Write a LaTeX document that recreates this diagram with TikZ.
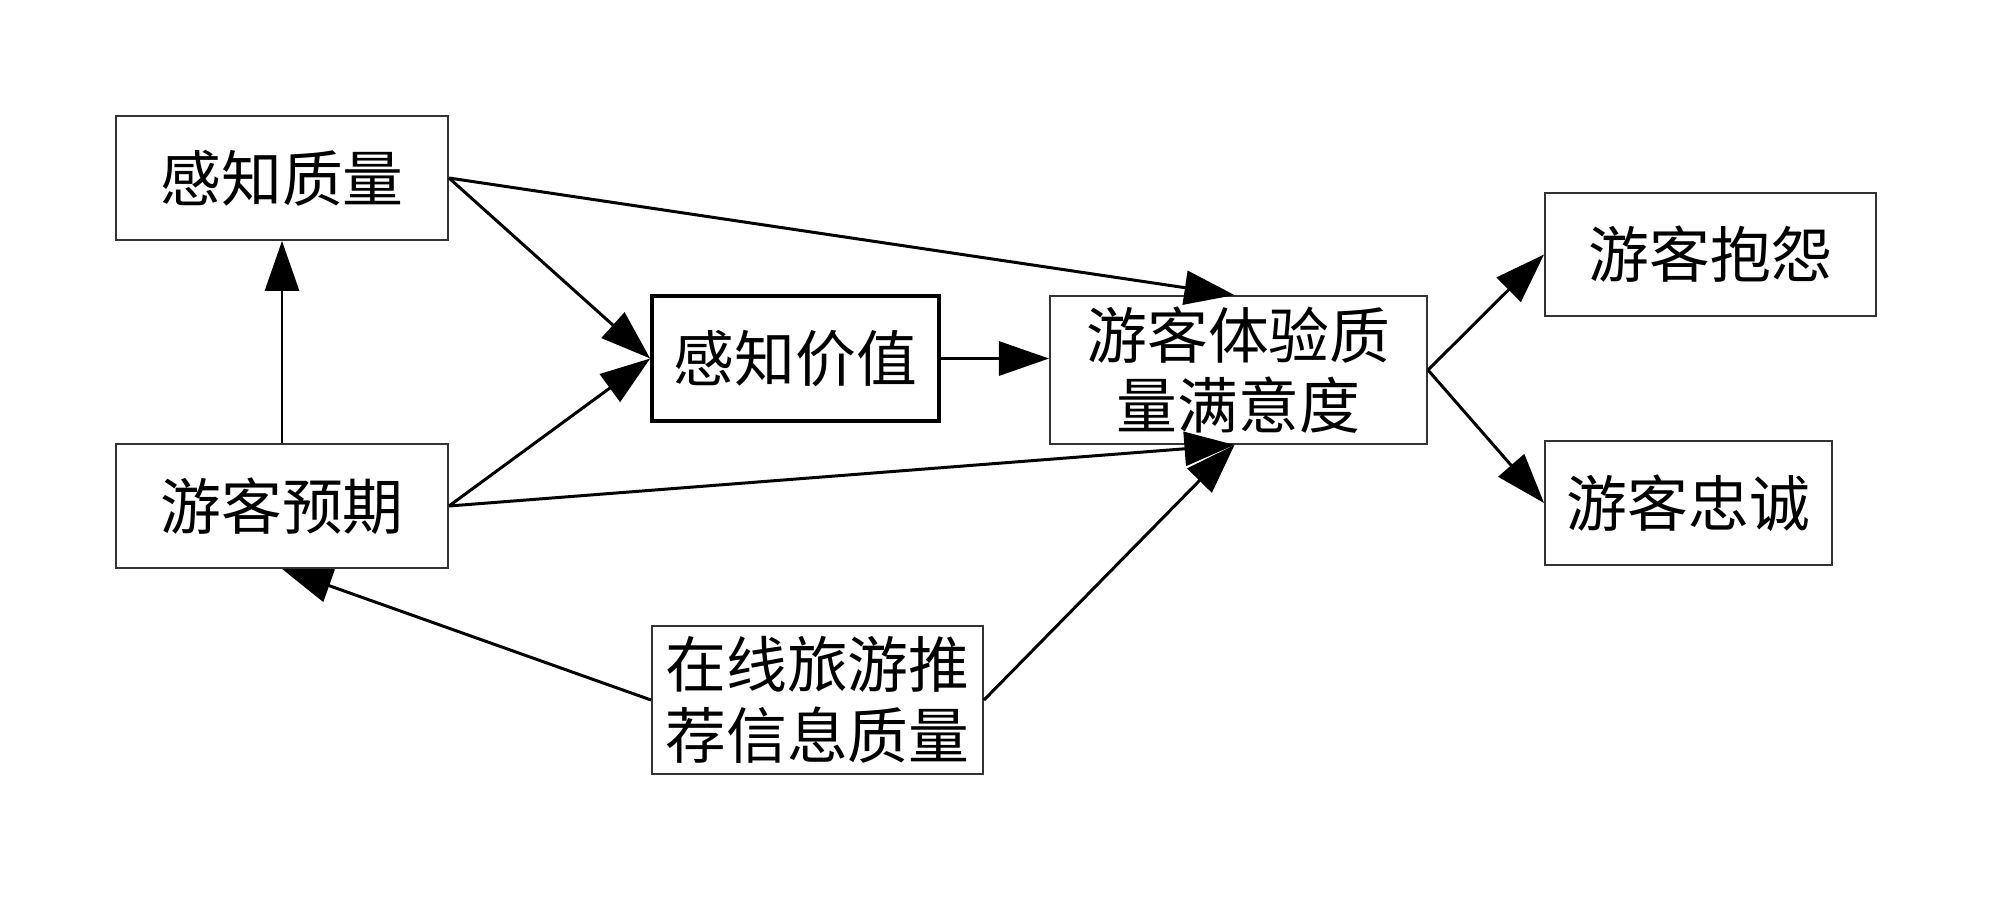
\documentclass[tikz,border=0pt]{standalone}
\usepackage{fontspec}
\setmainfont{Noto Sans CJK SC}
\usetikzlibrary{arrows.meta}
\tikzset{
  box/.style={draw=black!80, line width=0.5pt, inner sep=0pt, align=center,
    font=\fontsize{17.3}{20}\selectfont},
  thickbox/.style={box, draw=black, line width=1pt},
  conn/.style={line width=0.85pt, -{Triangle[length=0.5cm,width=0.34cm]}}
}
\begin{document}
\begin{tikzpicture}[x=0.01cm,y=-0.01cm]
\useasboundingbox (0,0) rectangle (2000,897);
\node[box, minimum width=3.32cm, minimum height=1.24cm] (A) at (282,178) {感知质量};
\node[box, minimum width=3.32cm, minimum height=1.24cm] (B) at (282,506) {游客预期};
\node[thickbox, minimum width=2.87cm, minimum height=1.25cm] (C) at (795.5,358.5) {感知价值};
\node[box, minimum width=3.77cm, minimum height=1.48cm] (D) at (1238.5,370) {游客体验质\\量满意度};
\node[box, minimum width=3.31cm, minimum height=1.23cm] (E) at (1710.5,254.5) {游客抱怨};
\node[box, minimum width=2.87cm, minimum height=1.24cm] (F) at (1688.5,503) {游客忠诚};
\node[box, minimum width=3.31cm, minimum height=1.48cm] (G) at (817.5,700) {在线旅游推\\荐信息质量};
\draw[conn] (B.north) -- (A.south);
\draw[conn] (A.east) -- (C.west);
\draw[conn] (A.east) -- ([xshift=-0.04cm]D.north);
\draw[conn] (B.east) -- (C.west);
\draw[conn] (B.east) -- ([xshift=-0.04cm]D.south);
\draw[conn] (C.east) -- (C.east -| D.west);
\draw[conn] (G.west) -- (B.south);
\draw[conn] (G.east) -- ([xshift=-0.04cm]D.south);
\draw[conn] (D.east) -- (E.west);
\draw[conn] (D.east) -- (F.west);
\end{tikzpicture}
\end{document}
